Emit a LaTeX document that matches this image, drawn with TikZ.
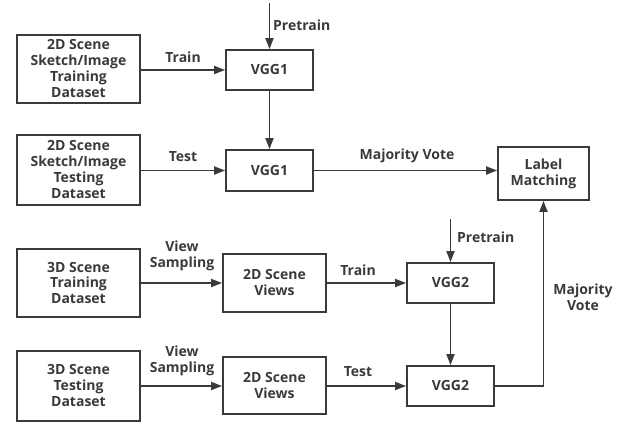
\documentclass[tikz,border=0pt]{standalone}
\usepackage{fontspec}
\setmainfont{Open Sans}
\usetikzlibrary{arrows.meta}
\definecolor{ink}{HTML}{3A3A3A}
\tikzset{
  box/.style={draw=ink, line width=1.8pt, text=ink, font=\fontsize{14}{16}\selectfont\bfseries, align=center, inner sep=0pt},
  lbl/.style={text=ink, font=\fontsize{14}{16}\selectfont\bfseries, align=center, inner sep=0pt},
  conn/.style={draw=ink, line width=1.8pt, -{Triangle[length=11pt,width=8pt]}},
  line/.style={draw=ink, line width=1.8pt}
}
\begin{document}
\begin{tikzpicture}[x=1pt,y=-1pt]
\useasboundingbox (0,0) rectangle (625,422);
\node[box, minimum width=123pt, minimum height=68pt] (d2tr) at (78.5,69) {2D Scene\\Sketch/Image\\Training\\Dataset};
\node[box, minimum width=123pt, minimum height=70pt] (d2te) at (78.5,170) {2D Scene\\Sketch/Image\\Testing\\Dataset};
\node[box, minimum width=87pt, minimum height=40pt] (vgg1a) at (269.5,70) {VGG1};
\node[box, minimum width=87pt, minimum height=41pt] (vgg1b) at (269.5,170.5) {VGG1};
\node[box, minimum width=91pt, minimum height=53pt] (lm) at (543.5,173.5) {Label\\Matching};
\node[box, minimum width=123pt, minimum height=68pt] (d3tr) at (78.5,283) {3D Scene\\Training\\Dataset};
\node[box, minimum width=123pt, minimum height=70pt] (d3te) at (78.5,386) {3D Scene\\Testing\\Dataset};
\node[box, minimum width=103pt, minimum height=58pt] (v2a) at (274.5,283) {2D Scene\\Views};
\node[box, minimum width=103pt, minimum height=57pt] (v2b) at (274.5,385.5) {2D Scene\\Views};
\node[box, minimum width=87pt, minimum height=40pt] (vgg2a) at (450.5,283) {VGG2};
\node[box, minimum width=87pt, minimum height=40pt] (vgg2b) at (450.5,386) {VGG2};
\coordinate (p1) at (269.5,3);
\coordinate (p2) at (450.5,219);
% connectors
\draw[conn] (p1) -- (vgg1a.north);
\draw[conn] (d2tr.east |- vgg1a.west) -- (vgg1a.west);
\draw[conn] (vgg1a.south) -- (vgg1b.north);
\draw[conn] (d2te.east |- vgg1b.west) -- (vgg1b.west);
\draw[conn] (vgg1b.east) -- (vgg1b.east -| lm.west);
\draw[conn] (d3tr.east) -- (d3tr.east -| v2a.west);
\draw[conn] (d3te.east) -- (d3te.east -| v2b.west);
\draw[conn] (v2a.east |- vgg2a.west) -- (vgg2a.west);
\draw[conn] (v2b.east |- vgg2b.west) -- (vgg2b.west);
\draw[conn] (p2) -- (vgg2a.north);
\draw[conn] (vgg2a.south) -- (vgg2b.north);
\draw[conn] (vgg2b.east) -| (lm.south);
% labels
\node[lbl, anchor=west] (lp1) at (273,25) {Pretrain};
\node[lbl] (ltr1) at (183,57) {Train};
\node[lbl] (lte1) at (183,157) {Test};
\node[lbl] (lmv1) at (407,156) {Majority Vote};
\node[lbl] (lvs1) at (182,256) {View\\Sampling};
\node[lbl] (lvs2) at (182,361) {View\\Sampling};
\node[lbl] (ltr2) at (358,270) {Train};
\node[lbl] (lte2) at (358,372) {Test};
\node[lbl, anchor=west] (lp2) at (457,237) {Pretrain};
\node[lbl] (lmv2) at (583,297) {Majority\\Vote};
\end{tikzpicture}
\end{document}
